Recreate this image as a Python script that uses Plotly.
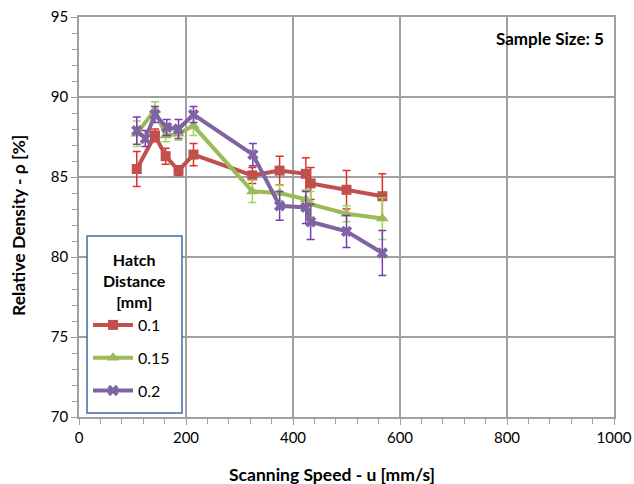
import plotly.graph_objects as go

# Data
red_x = [108, 142, 162, 186, 214, 324, 375, 424, 433, 500, 567]
red_y = [85.5, 87.6, 86.3, 85.4, 86.4, 85.1, 85.4, 85.2, 84.6, 84.2, 83.8]
red_err = [1.1, 0.4, 0.5, 0.3, 0.7, 0.5, 0.9, 1.0, 1.0, 1.2, 1.4]

green_x = [108, 142, 162, 186, 214, 324, 375, 424, 433, 500, 567]
green_y = [87.7, 89.2, 87.6, 87.7, 88.2, 84.1, 84.0, 83.6, 83.3, 82.7, 82.4]
green_err = [0.8, 0.5, 0.4, 0.4, 0.6, 0.7, 0.5, 0.6, 0.8, 0.5, 1.3]

purple_x = [108, 124, 142, 164, 186, 214, 325, 375, 424, 433, 500, 567]
purple_y = [87.9, 87.4, 88.9, 88.1, 88.0, 88.9, 86.4, 83.2, 83.1, 82.2, 81.6, 80.25]
purple_err = [0.85, 0.5, 0.5, 0.5, 0.6, 0.5, 0.7, 0.9, 1.0, 1.1, 1.0, 1.4]

series_names = ["0.1", "0.15", "0.2"]
x_ticks = [0, 200, 400, 600, 800, 1000]
y_ticks = [70, 75, 80, 85, 90, 95]

FONT = "Lato"

# plot-area geometry in pixels (for placing paper-referenced items)
L, R, T, B = 79, 20, 17, 67
W, H = 634, 484
PW, PH = W - L - R, H - T - B


def px(x):
    return (x - L) / PW


def py(y):
    return (H - B - y) / PH


fig = go.Figure()

specs = [
    (red_x, red_y, red_err, series_names[0], "#C0504D", "#E0302A", "square", 10),
    (green_x, green_y, green_err, series_names[1], "#9BBB59", "#98D85A", "triangle-up", 11),
    (purple_x, purple_y, purple_err, series_names[2], "#8064A2", "#7A3DB0", "x", 10),
]
for i, (xs, ys, es, name, col, ecol, sym, sz) in enumerate(specs):
    fig.add_trace(go.Scatter(
        x=xs, y=ys, name=name, mode="lines+markers", legendgroup=f"g{i}",
        line=dict(color=col, width=4),
        marker=dict(symbol=sym, size=sz, color=col, line=dict(width=0)),
        error_y=dict(type="data", array=es, visible=True, color=ecol,
                     thickness=1.5, width=4),
    ))

axis_common = dict(
    showgrid=True, gridcolor="#A0A0A0", gridwidth=1.5,
    showline=True, linecolor="#A0A0A0", linewidth=1.5, mirror=True,
    ticks="outside", ticklen=6, tickcolor="#A0A0A0", tickwidth=1.2,
    tickfont=dict(family=FONT, size=15, color="#000000"),
    zeroline=False,
)

fig.update_xaxes(
    range=[0, 1000], tickvals=x_ticks, ticktext=[str(v) for v in x_ticks],
    minor=dict(dtick=40, ticks="outside", ticklen=5, tickcolor="#A0A0A0", showgrid=False),
    **axis_common,
)
fig.update_yaxes(
    range=[70, 95], tickvals=y_ticks, ticktext=[str(v) for v in y_ticks],
    minor=dict(dtick=1, ticks="outside", ticklen=5, tickcolor="#A0A0A0", showgrid=False),
    **axis_common,
)

fig.update_layout(
    width=W, height=H,
    margin=dict(l=L, r=R, t=T, b=B, autoexpand=False),
    paper_bgcolor="white", plot_bgcolor="white",
    font=dict(family=FONT, color="#000000"),
    showlegend=True,
    legend=dict(
        x=px(88), y=py(308), xanchor="left", yanchor="top",
        bgcolor="rgba(0,0,0,0)", borderwidth=0,
        font=dict(family=FONT, size=16, color="#000000"),
        traceorder="grouped", tracegroupgap=9,
        itemwidth=40,
    ),
    shapes=[
        dict(type="rect", xref="paper", yref="paper",
             x0=px(87), x1=px(182), y0=py(413), y1=py(236),
             line=dict(color="#3F6AA8", width=1.5), fillcolor="white", layer="above"),
    ],
    annotations=[
        dict(text="<b>Hatch<br>Distance<br>[mm]</b>", xref="paper", yref="paper",
             x=px(134), y=py(281), xanchor="center", yanchor="middle", align="center",
             showarrow=False, font=dict(family=FONT, size=16, color="#000000")),
        dict(text="<b>Sample Size: 5</b>", xref="paper", yref="paper",
             x=px(550), y=py(38), xanchor="center", yanchor="middle",
             showarrow=False, font=dict(family=FONT, size=17, color="#000000")),
        dict(text="<b>Scanning Speed - u [mm/s]</b>", xref="paper", yref="paper",
             x=px(332), y=py(474), xanchor="center", yanchor="middle",
             showarrow=False, font=dict(family=FONT, size=17.5, color="#000000")),
        dict(text="<b>Relative Density - ρ [%]</b>", xref="paper", yref="paper",
             x=px(18), y=py(226), xanchor="center", yanchor="middle",
             textangle=-90,
             showarrow=False, font=dict(family=FONT, size=17.5, color="#000000")),
    ],
)

fig.write_html(
    "out.html",
    config={"displayModeBar": False},
    post_script="document.body.style.margin='0';document.body.style.overflow='hidden';",
)
